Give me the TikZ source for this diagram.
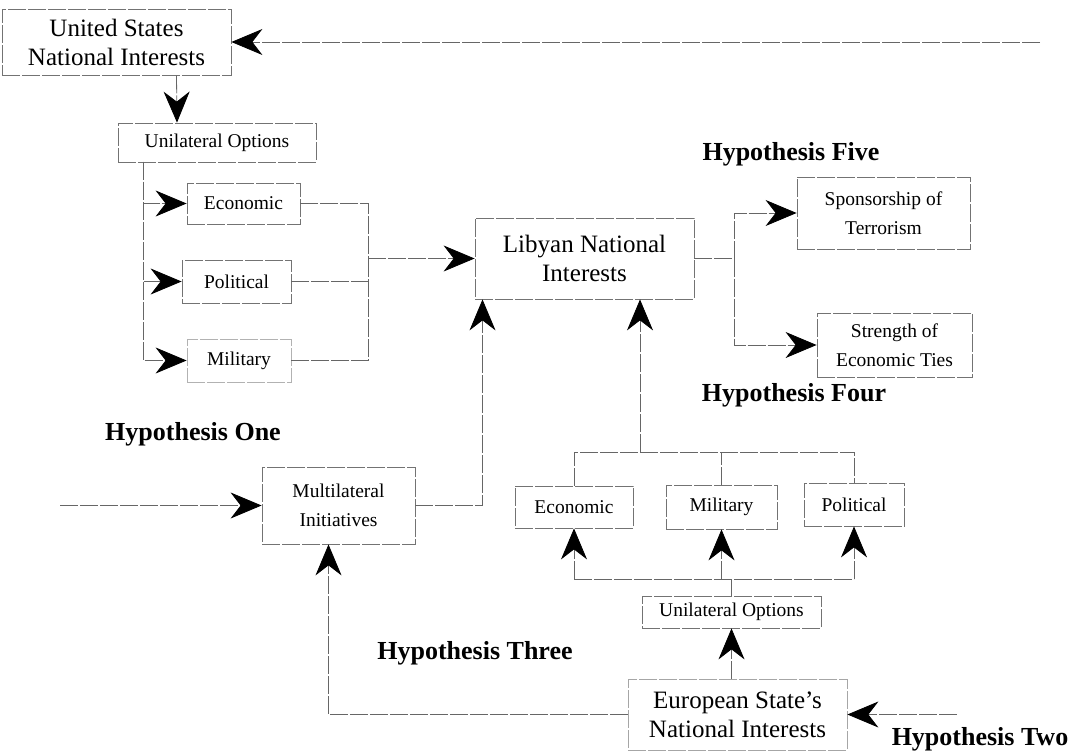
\documentclass[tikz,border=0pt]{standalone}
\usepackage{fontspec}
\setmainfont{Liberation Serif}
\usetikzlibrary{arrows.meta}
\tikzset{
  box/.style={draw=black!55, line width=0.8pt, dash pattern=on 18pt off 2pt,
    align=center, inner sep=0pt},
  big/.style={font=\fontsize{25}{29}\selectfont},
  small/.style={font=\fontsize{19.5}{29}\selectfont},
  hyp/.style={font=\fontsize{26}{30}\selectfont\bfseries},
  link/.style={draw=black!60, line width=0.8pt, dash pattern=on 18pt off 2pt},
  arr/.style={link, -{Stealth[length=31pt,width=26pt,inset=10pt,color=black]}},
}
\begin{document}
\begin{tikzpicture}[x=1pt,y=-1pt]
      \useasboundingbox (0,0) rectangle (1075,754);
      \node[box,big,minimum width=229pt,minimum height=66pt] (usni) at (116.5,42) {United States\\National Interests};
      \node[box,small,minimum width=198pt,minimum height=39pt] (uoa) at (217,142.5) {Unilateral Options};
      \node[box,small,minimum width=113pt,minimum height=41pt] (ecoa) at (243.5,203.5) {Economic};
      \node[box,small,minimum width=109pt,minimum height=43pt] (pola) at (236.5,281.5) {Political};
      \node[box,small,minimum width=104pt,minimum height=43pt,draw=black!30] (mila) at (239,360.5) {Military};
      \node[box,big,minimum width=219pt,minimum height=81pt] (lni) at (584.5,258.5) {Libyan National\\Interests};
      \node[box,small,minimum width=173pt,minimum height=72pt] (spon) at (883.5,213) {Sponsorship of\\Terrorism};
      \node[box,small,minimum width=155pt,minimum height=64pt] (tie) at (894.5,345) {Strength of\\Economic Ties};
      \node[box,small,minimum width=153pt,minimum height=77pt] (multi) at (338.5,505.5) {Multilateral\\Initiatives};
      \node[box,small,minimum width=118pt,minimum height=42pt] (ecob) at (574,507) {Economic};
      \node[box,small,minimum width=111pt,minimum height=44pt] (milb) at (721.5,507) {Military};
      \node[box,small,minimum width=100pt,minimum height=43pt] (polb) at (854,504.5) {Political};
      \node[box,small,minimum width=179pt,minimum height=32pt] (uob) at (731.5,612) {Unilateral Options};
      \node[box,big,minimum width=219pt,minimum height=71pt,draw=black!35] (euro) at (737.5,714.5) {European State's\\National Interests};

      \node[hyp] (hfive) at (791,154) {Hypothesis Five};
      \node[hyp] (hfour) at (794,395) {Hypothesis Four};
      \node[hyp] (hone) at (193,434) {Hypothesis One};
      \node[hyp] (hthree) at (475,653) {Hypothesis Three};
      \node[hyp] (htwo) at (980,739) {Hypothesis Two};

      \coordinate (usin) at (1040,42);
      \coordinate (onein) at (60,505.5);
      \coordinate (twoin) at (957,714.5);
      \coordinate (trunk) at (143,162);
      \coordinate (join) at (368,258.5);
      \coordinate (fork) at (734,258.5);
      \coordinate (topbus) at (640,452);
      \coordinate (lowbus) at (725,579);

      \draw[arr] (usin) -- (usni.east);
      \draw[arr] ([xshift=60pt]usni.south) -- ([xshift=-40pt]uoa.north);
      \draw[arr] (trunk) |- (ecoa.west);
      \draw[arr] (trunk) |- (pola.west);
      \draw[arr] (trunk) |- (mila.west);
      \draw[link] (ecoa.east) -| (join);
      \draw[link] (mila.east) -| (join);
      \draw[link] (pola.east) -- (pola.east -| join);
      \draw[arr] (join) -- (lni.west);
      \draw[link] (lni.east) -- (fork);
      \draw[arr] (fork) |- (spon.west);
      \draw[arr] (fork) |- (tie.west);
      \draw[arr] (onein) -- (multi.west);
      \draw[arr] (multi.east) -| ([xshift=-102pt]lni.south);
      \draw[arr] (topbus) -- (topbus |- lni.south);
      \draw[link] (ecob.north) |- (topbus) -| (polb.north);
      \draw[link] (milb.north) -- (milb.north |- topbus);
      \draw[link] (ecob.south |- lowbus) -- (polb.south |- lowbus);
      \draw[arr] (ecob.south |- lowbus) -- (ecob.south);
      \draw[arr] (milb.south |- lowbus) -- (milb.south);
      \draw[arr] (polb.south |- lowbus) -- (polb.south);
      \draw[link] (uob.north) -- (uob.north |- lowbus);
      \draw[arr] (euro.north -| uob.south) -- (uob.south);
      \draw[arr] (twoin) -- (euro.east);
      \draw[arr] (euro.west) -| ([xshift=-10pt]multi.south);
\end{tikzpicture}
\end{document}
